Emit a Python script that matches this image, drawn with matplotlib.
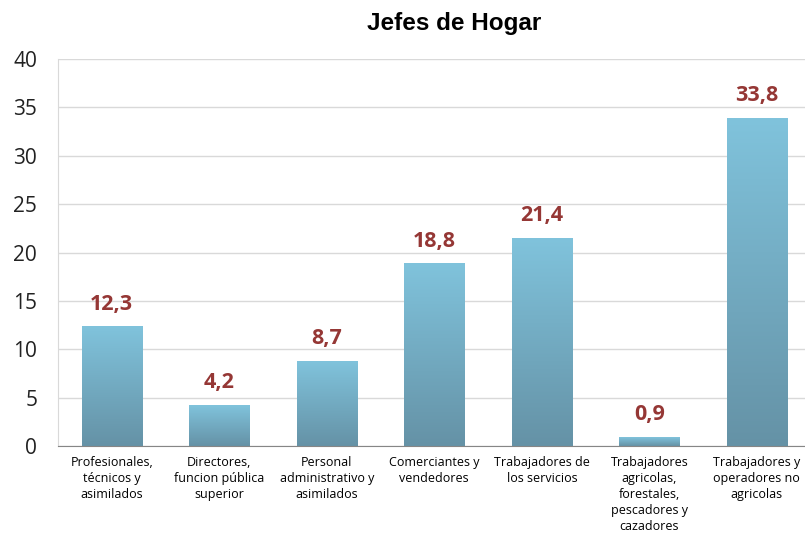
import numpy as np
import matplotlib.pyplot as plt
from matplotlib.colors import LinearSegmentedColormap

categories = [
    "Profesionales,\ntécnicos y\nasimilados",
    "Directores,\nfuncion pública\nsuperior",
    "Personal\nadministrativo y\nasimilados",
    "Comerciantes y\nvendedores",
    "Trabajadores de\nlos servicios",
    "Trabajadores\nagricolas,\nforestales,\npescadores y\ncazadores",
    "Trabajadores y\noperadores no\nagricolas",
]
values = [12.3, 4.2, 8.7, 18.8, 21.4, 0.9, 33.8]
value_labels = ["12,3", "4,2", "8,7", "18,8", "21,4", "0,9", "33,8"]

fig = plt.figure(figsize=(8.05, 5.35), dpi=100)
ax = fig.add_axes([0.072, 0.166, 0.935, 0.724])

cmap = LinearSegmentedColormap.from_list("bar", ["#6592a6", "#80c3dc"])
grad = np.linspace(0, 1, 256).reshape(-1, 1)
width = 0.56
x = np.arange(len(values))

for xi, v, lab in zip(x, values, value_labels):
    ax.imshow(grad, cmap=cmap, origin="lower", aspect="auto",
              extent=(xi - width / 2, xi + width / 2, 0, v), zorder=3)
    ax.annotate(lab, (xi, v), xytext=(0, 9), textcoords="offset points",
                ha="center", va="bottom", fontsize=15.5, fontweight="bold",
                color="#953735", family="Open Sans")

ax.set_xlim(-0.5, len(values) - 0.5)
ax.set_ylim(0, 40)
ax.set_yticks(range(0, 41, 5))
ax.set_xticks(x)
ax.set_xticklabels(categories, fontsize=9, family="Open Sans", linespacing=1.3)
ax.tick_params(axis="y", labelsize=15, length=0, pad=15, labelcolor="#222222")
ax.tick_params(axis="x", length=0, pad=7)
for t in ax.get_yticklabels():
    t.set_family("Open Sans")

ax.grid(axis="y", color="#d9d9d9", linewidth=1, zorder=0)
ax.set_axisbelow(True)
for s in ["top", "right"]:
    ax.spines[s].set_visible(False)
ax.spines["left"].set_color("#d9d9d9")
ax.spines["bottom"].set_color("#868686")
ax.spines["bottom"].set_zorder(4)

fig.text(0.564, 0.957, "Jefes de Hogar", ha="center", va="center",
         fontsize=17.5, fontweight="bold", family="Liberation Sans")

fig.savefig("out.png", dpi=100)
